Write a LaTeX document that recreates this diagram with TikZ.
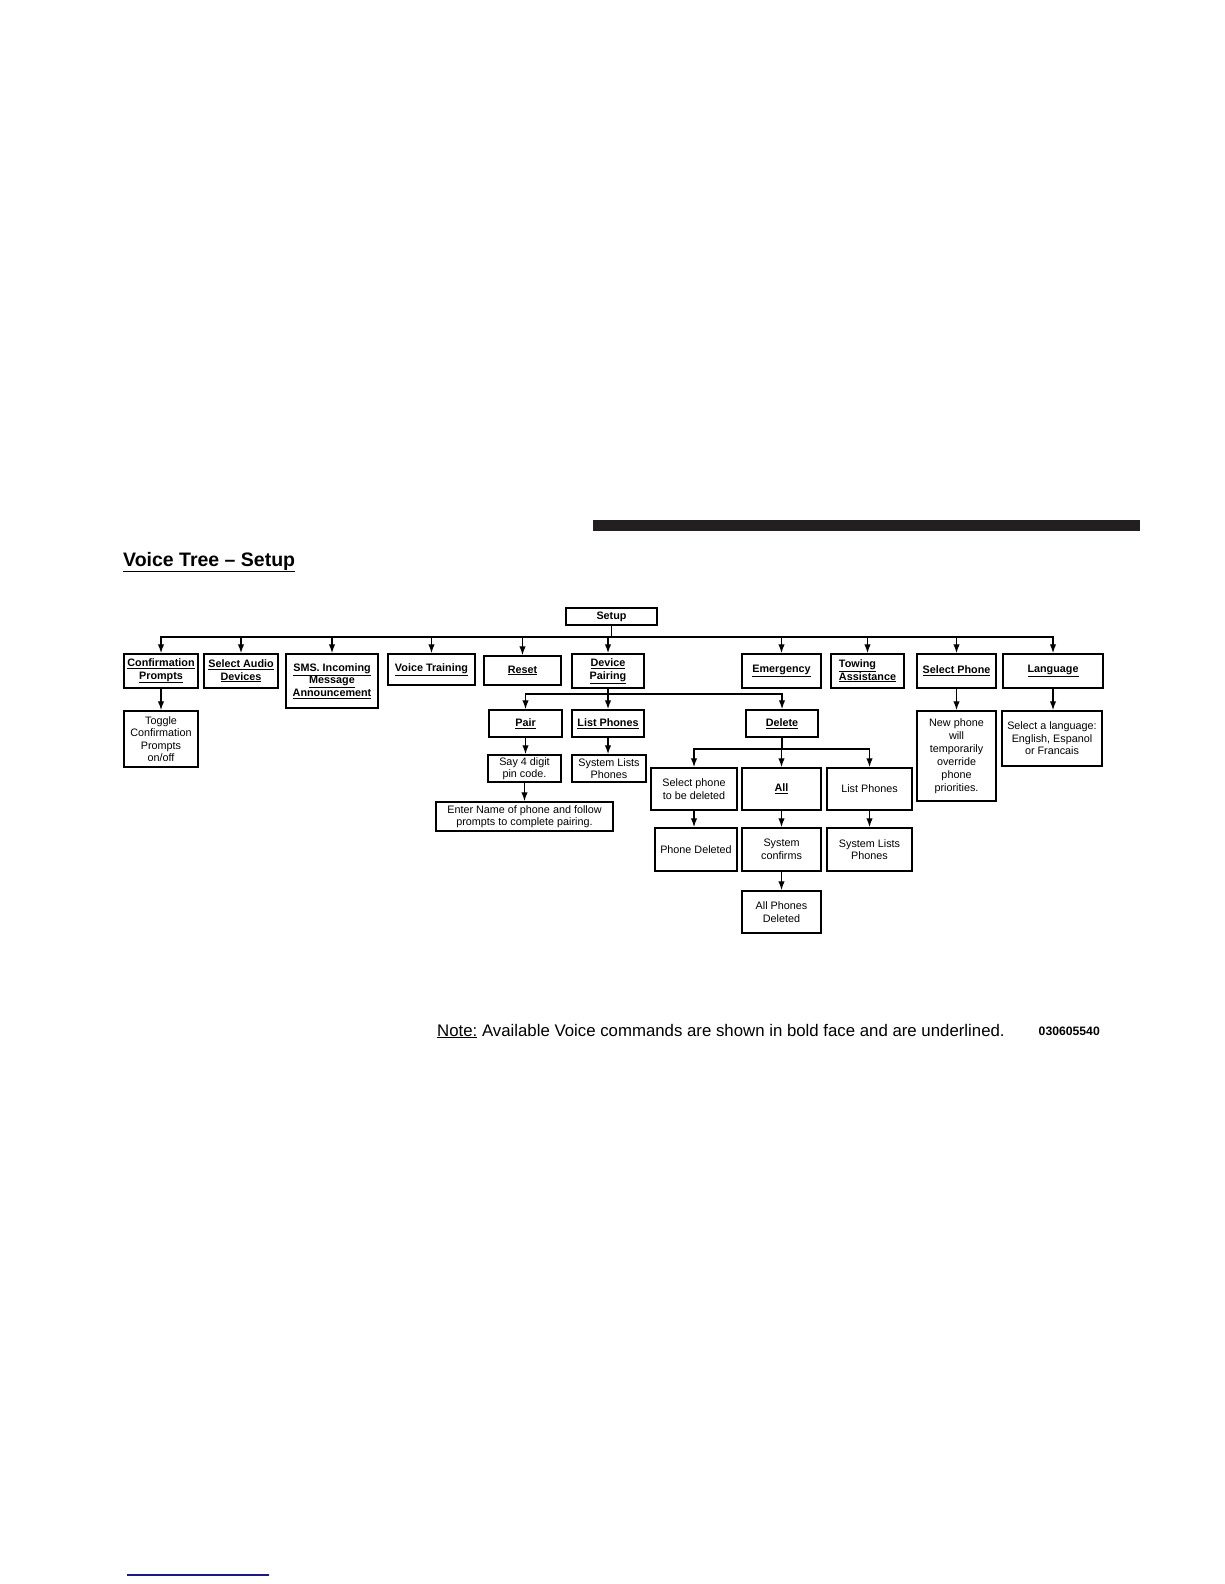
\documentclass[tikz,border=0pt]{standalone}
\usepackage{fontspec}
\setmainfont{Liberation Sans}
\usepackage{tikz}
\usetikzlibrary{positioning,arrows.meta,calc}

\newcommand{\cmdul}[1]{\underline{#1}}
\definecolor{barblack}{RGB}{35,31,32}
\definecolor{linkblue}{RGB}{25,25,135}

\begin{document}
\begin{tikzpicture}[
  x=1pt, y=-1pt,
  box/.style={draw, line width=1.5pt, inner sep=0pt, align=center, font=\fontsize{10.8}{12.5}\selectfont},
  cmd/.style={box, font=\fontsize{10.8}{12.5}\selectfont\bfseries},
  info/.style={box},
  sz/.style 2 args={minimum width=#1pt, minimum height=#2pt},
  arrow/.style={-{Latex[length=9pt,width=6.5pt]}, line width=1.4pt}
]
\useasboundingbox (0,0) rectangle (1224,1584);

% header
\fill[barblack] (593,520) rectangle (1140,531);
\node[anchor=base west, inner sep=0pt, font=\fontsize{19.5}{22}\selectfont\bfseries] (title) at (123,566) {\underline{Voice Tree -- Setup}};

% top level
\node[cmd, sz={91}{17}] (setup) at (611.5,616.5) {Setup};
\node[cmd, sz={74}{34}] (conf) at (161,671) {\cmdul{Confirmation}\\\cmdul{Prompts}};
\node[cmd, sz={74}{34}] (audio) at (241,671) {\cmdul{Select Audio}\\\cmdul{Devices}};
\node[cmd, sz={92}{54}] (sms) at (332,681) {\cmdul{SMS. Incoming}\\\cmdul{Message}\\\cmdul{Announcement}};
\node[cmd, sz={87}{31}] (voice) at (431.5,669.5) {\cmdul{Voice Training}};
\node[cmd, sz={77}{29}] (reset) at (522.5,670.5) {\cmdul{Reset}};
\node[cmd, sz={72}{34}] (devpair) at (608,671) {\cmdul{Device}\\\cmdul{Pairing}};
\node[cmd, sz={79}{34}] (emerg) at (781.5,671) {\cmdul{Emergency}};
\node[cmd, sz={73}{34}, align=left] (towing) at (867.5,671) {\cmdul{Towing}\\\cmdul{Assistance}};
\node[cmd, sz={79}{34}] (selphone) at (956.5,671) {\cmdul{Select Phone}};
\node[cmd, sz={100}{34}] (lang) at (1053,671) {\cmdul{Language}};

% second level
\node[info, sz={74}{56}] (toggle) at (161,739) {Toggle\\Confirmation\\Prompts\\on/off};
\node[cmd, sz={73}{27}] (pair) at (525.5,723.5) {\cmdul{Pair}};
\node[cmd, sz={72}{27}] (listph) at (608,723.5) {\cmdul{List Phones}};
\node[cmd, sz={72}{27}] (delete) at (782,723.5) {\cmdul{Delete}};
\node[info, sz={79}{90}, font=\fontsize{10.8}{13}\selectfont] (newphone) at (956.5,756) {New phone\\will\\temporarily\\override\\phone\\priorities.};
\node[info, sz={100}{55}] (sellang) at (1052,738.5) {Select a language:\\English, Espanol\\or Francais};

% pairing
\node[info, sz={73}{27}] (saypin) at (524.5,768.5) {Say 4 digit\\pin code.};
\node[info, sz={74}{27}] (syslist) at (609,768.5) {System Lists\\Phones};
\node[info, sz={177}{29}] (entername) at (524.5,816.5) {Enter Name of phone and follow\\prompts to complete pairing.};

% delete
\node[info, sz={86}{42}] (selphdel) at (694,789) {Select phone\\to be deleted};
\node[cmd, sz={79}{42}] (all) at (781.5,789) {\cmdul{All}};
\node[info, sz={85}{42}] (listdel) at (869.5,789) {List Phones};
\node[info, sz={82}{43}] (phdeleted) at (696,849.5) {Phone Deleted};
\node[info, sz={79}{43}] (sysconf) at (781.5,849.5) {System\\confirms};
\node[info, sz={85}{43}] (syslistdel) at (869.5,849.5) {System Lists\\Phones};
\node[info, sz={79}{42}] (allphdel) at (781.5,912) {All Phones\\Deleted};

% buses
\coordinate (topbus) at (0,637);
\coordinate (pairbus) at (0,694);
\coordinate (delbus) at (0,749);

\foreach \n in {conf,audio,sms,voice,reset,devpair,emerg,towing,selphone,lang}
  \draw[arrow] (setup.south) -- (setup.south |- topbus) -| (\n.north);
\foreach \n in {pair,listph,delete}
  \draw[arrow] (devpair.south) -- (devpair.south |- pairbus) -| (\n.north);
\foreach \n in {selphdel,all,listdel}
  \draw[arrow] (delete.south) -- (delete.south |- delbus) -| (\n.north);

\foreach \a/\b in {conf/toggle, pair/saypin, saypin/entername, listph/syslist,
  selphdel/phdeleted, all/sysconf, sysconf/allphdel, listdel/syslistdel,
  selphone/newphone, lang/sellang}
  \draw[arrow] (\a.south) -- (\a.south |- \b.north);

% note
\node[anchor=base west, inner sep=0pt, font=\fontsize{16.8}{19}\selectfont] (note) at (437,1036) {\underline{Note:} Available Voice commands are shown in bold face and are underlined.};
\node[anchor=base east, inner sep=0pt, font=\fontsize{12.2}{14}\selectfont\bfseries] (code) at (1100,1035) {030605540};

\draw[linkblue, line width=1.5pt] (127,1575) -- (269,1575);
\end{tikzpicture}
\end{document}
